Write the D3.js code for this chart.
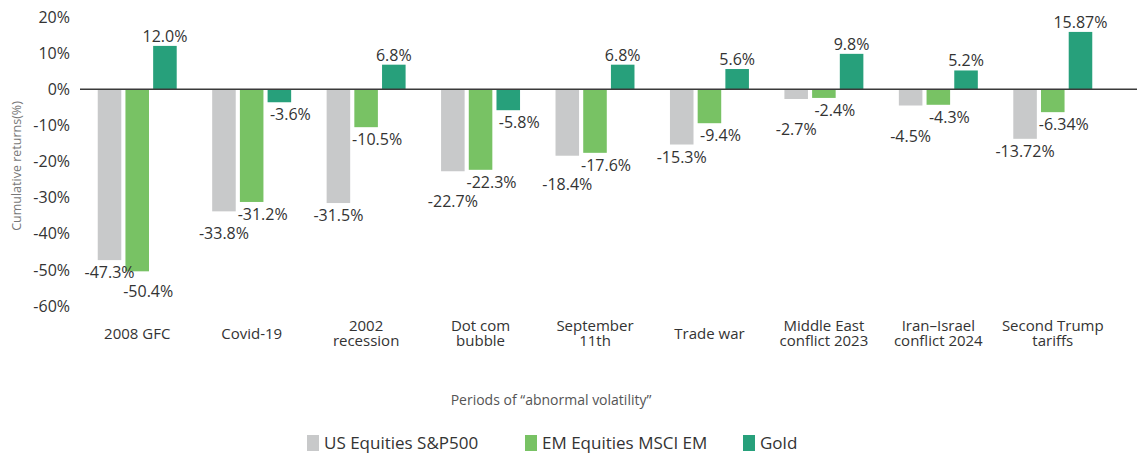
<!DOCTYPE html>
<html lang="en">
<head>
    <meta charset="UTF-8">
    <title>Abnormal volatility returns</title>
    <script src="https://d3js.org/d3.v7.min.js"></script>
    <style>
        body { margin: 0; background: #fff; }
        text { font-family: "Open Sans", sans-serif; }
    </style>
</head>
<body>
<script>
    const width = 1146;
    const height = 454;

    // data
    const categories = ["2008 GFC", "Covid-19", "2002\nrecession", "Dot com\nbubble", "September\n11th",
                        "Trade war", "Middle East\nconflict 2023", "Iran–Israel\nconflict 2024", "Second Trump\ntariffs"];
    const seriesNames = ["US Equities S&P500", "EM Equities MSCI EM", "Gold"];
    const sp500 = [-47.3, -33.8, -31.5, -22.7, -18.4, -15.3, -2.7, -4.5, -13.72];
    const msciEm = [-50.4, -31.2, -10.5, -22.3, -17.6, -9.4, -2.4, -4.3, -6.34];
    const gold = [12.0, -3.6, 6.8, -5.8, 6.8, 5.6, 9.8, 5.2, 15.87];
    const yTicks = [20, 10, 0, -10, -20, -30, -40, -50, -60];
    const colors = ["#c8c9ca", "#78c264", "#27a07b"];

    const series = [sp500, msciEm, gold];

    const svg = d3.select("body").append("svg")
            .attr("width", width).attr("height", height);

    const x0 = d3.scaleBand()
            .domain(categories)
            .range([80, 1110])
            .paddingInner(0.31)
            .paddingOuter(0.155);

    const x1 = d3.scaleBand()
            .domain(seriesNames)
            .range([0, x0.bandwidth()])
            .paddingInner(0.15);

    const y = d3.scaleLinear()
            .domain([-60, 20])
            .range([306, 17]);

    const fmt = v => (Math.abs(v * 10 - Math.round(v * 10)) < 1e-6 ? v.toFixed(1) : v.toFixed(2)) + "%";

    // y axis labels
    const yAxis = svg.append("g")
            .attr("transform", "translate(80,0)")
            .call(d3.axisLeft(y).tickValues(yTicks).tickSize(0).tickPadding(10).tickFormat(d => d + "%"));
    yAxis.select(".domain").remove();
    yAxis.selectAll("text")
            .style("font-family", "'Open Sans', sans-serif")
            .style("font-size", "16px")
            .attr("fill", "#333");

    svg.append("text")
            .attr("transform", "translate(21,166) rotate(-90)")
            .attr("text-anchor", "middle")
            .attr("font-size", 12.5)
            .attr("fill", "#777")
            .text("Cumulative returns(%)");

    // bars
    const flat = [];
    categories.forEach((c, i) => {
        seriesNames.forEach((s, j) => {
            flat.push({cat: c, ser: s, idx: j, value: series[j][i]});
        });
    });

    svg.append("g").selectAll("rect")
            .data(flat)
            .enter()
            .append("rect")
            .attr("x", d => x0(d.cat) + x1(d.ser))
            .attr("width", x1.bandwidth())
            .attr("y", d => y(Math.max(0, d.value)))
            .attr("height", d => Math.abs(y(d.value) - y(0)))
            .attr("fill", d => colors[d.idx]);

    // zero line
    svg.append("line")
            .attr("x1", 80).attr("x2", 1137)
            .attr("y1", y(0)).attr("y2", y(0))
            .attr("stroke", "#3a3a3a")
            .attr("stroke-width", 1.5);

    // value labels
    const labels = svg.append("g").selectAll("text")
            .data(flat)
            .enter()
            .append("text")
            .attr("text-anchor", "middle")
            .attr("font-size", 16)
            .attr("fill", "#333")
            .text(d => fmt(d.value));

    labels.each(function(d) {
        const cx = x0(d.cat) + x1(d.ser) + x1.bandwidth() / 2;
        d.w = this.getComputedTextLength();
        if (d.value >= 0) {
            d.lx = cx;
            d.ly = y(d.value) - 4;
        } else {
            d.lx = cx + (d.idx === 0 ? 0 : 11);
            d.ly = y(d.value) + 18;
        }
    });

    // push overlapping negative labels down, group by group
    categories.forEach(c => {
        const neg = flat.filter(d => d.cat === c && d.value < 0).sort((a, b) => a.ly - b.ly);
        const placed = [];
        neg.forEach(d => {
            placed.forEach(p => {
                const overlapX = Math.abs(p.lx - d.lx) < (p.w + d.w) / 2;
                if (overlapX && d.ly - p.ly < 17) d.ly = p.ly + 19;
            });
            placed.push(d);
        });
    });

    labels.attr("x", d => d.lx).attr("y", d => d.ly);

    // category labels, one text per line
    categories.forEach(c => {
        const lines = c.split("\n");
        const cx = x0(c) + x0.bandwidth() / 2;
        svg.append("g").selectAll("text")
                .data(lines)
                .enter()
                .append("text")
                .attr("text-anchor", "middle")
                .attr("font-size", 15)
                .attr("fill", "#333")
                .attr("x", cx)
                .attr("y", (d, i) => (lines.length > 1 ? 331 : 339) + i * 15)
                .text(d => d);
    });

    svg.append("text")
            .attr("x", 551).attr("y", 405)
            .attr("text-anchor", "middle")
            .attr("font-size", 14)
            .attr("fill", "#555")
            .text("Periods of “abnormal volatility”");

    // legend
    const legend = svg.append("g").selectAll("g")
            .data(seriesNames)
            .enter()
            .append("g")
            .attr("transform", (d, i) => "translate(" + (307 + i * 218) + ",435)");
    legend.append("rect")
            .attr("width", 12).attr("height", 16)
            .attr("fill", (d, i) => colors[i]);
    legend.append("text")
            .attr("x", 17).attr("y", 14)
            .attr("font-size", 17)
            .attr("fill", "#333")
            .text(d => d);
</script>

</body>
</html>
